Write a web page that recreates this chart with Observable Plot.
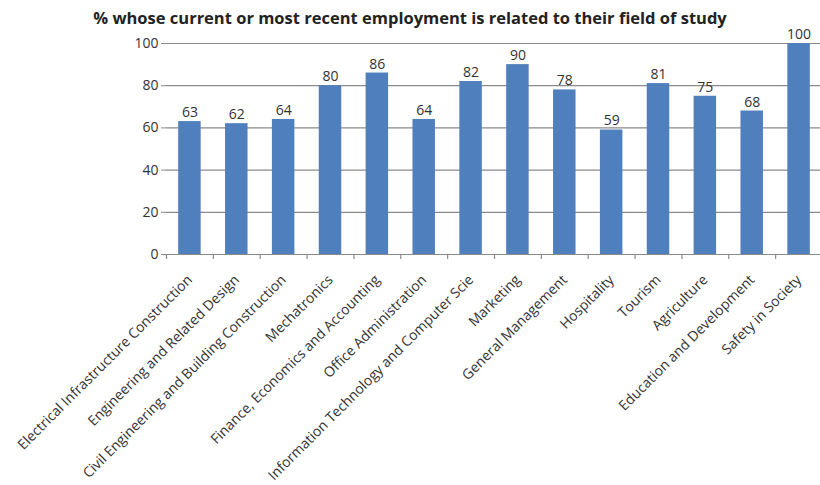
<!DOCTYPE html>
<html>
<head>
<meta charset="utf-8">
<script src="https://cdn.jsdelivr.net/npm/d3@7"></script>
<script src="https://cdn.jsdelivr.net/npm/@observablehq/plot@0.6"></script>
<style>
  body { margin: 0; background: #fff; font-family: "Open Sans", sans-serif; overflow: hidden; }
  #wrap { position: relative; width: 820px; height: 485px; overflow: hidden; }
  #title { position: absolute; left: 0; top: 6px; width: 820px; text-align: center; font-size: 16.5px; font-weight: bold; color: #222; line-height: 24px; }
</style>
</head>
<body>
<div id="wrap">
<div id="chart"></div>
<div id="title">% whose current or most recent employment is related to their field of study</div>
</div>
<script>
const categories = [
  "Electrical Infrastructure Construction",
  "Engineering and Related Design",
  "Civil Engineering and Building Construction",
  "Mechatronics",
  "Finance, Economics and Accounting",
  "Office Administration",
  "Information Technology and Computer Scie",
  "Marketing",
  "General Management",
  "Hospitality",
  "Tourism",
  "Agriculture",
  "Education and Development",
  "Safety in Society"
];
const values = [63, 62, 64, 80, 86, 64, 82, 90, 78, 59, 81, 75, 68, 100];
const yTicks = [0, 20, 40, 60, 80, 100];

const data = categories.map((c, i) => ({category: c, value: values[i]}));
const mL = 166, mR = -2, W = 820;
const half = (W - mL - mR) / categories.length / 2;

const chart = Plot.plot({
  width: W,
  height: 485,
  marginTop: 43,
  marginBottom: 231,
  marginLeft: mL,
  marginRight: mR,
  style: {fontFamily: "Open Sans, sans-serif", fontSize: "12px", color: "#333", overflow: "visible"},
  x: {domain: categories, paddingInner: 0.52, paddingOuter: 0.26, round: false, label: null},
  y: {domain: [0, 100], ticks: yTicks, label: null},
  marks: [
    Plot.gridY(yTicks, {stroke: "#8a8a8a", strokeOpacity: 1, strokeWidth: 1.2}),
    Plot.ruleX([0], {frameAnchor: "left", stroke: "#8a8a8a", strokeWidth: 1.2}),
    Plot.ruleX(categories, {x: d => d, y1: 0, y2: 0, dx: half, insetBottom: -5, stroke: "#8a8a8a", strokeWidth: 1.2}),
    Plot.ruleX(categories.slice(0, 1), {x: d => d, y1: 0, y2: 0, dx: -half, insetBottom: -5, stroke: "#8a8a8a", strokeWidth: 1.2}),
    Plot.barY(data, {x: "category", y: "value", fill: "#4f80bd"}),
    Plot.text(data, {x: "category", y: "value", text: d => String(d.value), dy: -9, fontSize: 14, fill: "#333"}),
    Plot.axisY(yTicks, {tickSize: 5, tickPadding: 3, fontSize: 14, stroke: "#8a8a8a", fill: "#333"}),
    Plot.axisX({tickSize: 0, tickRotate: -45, tickPadding: 23, dx: 0, fontSize: 14, fill: "#333", textAnchor: "end"})
  ]
});
document.getElementById("chart").appendChild(chart);
</script>
</body>
</html>
